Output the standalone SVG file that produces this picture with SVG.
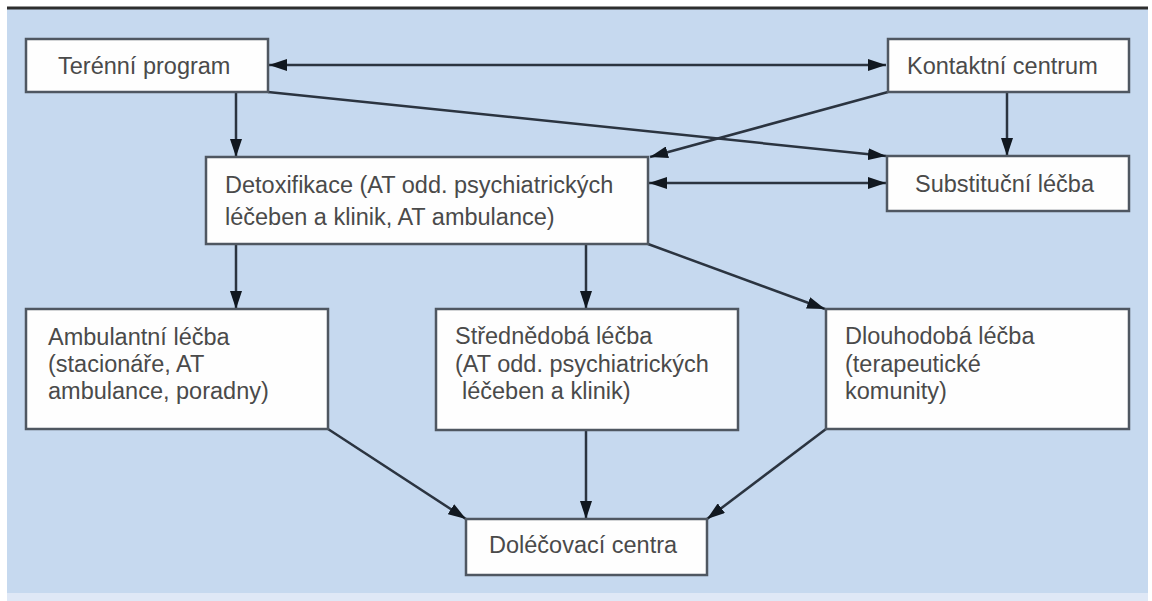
<svg xmlns="http://www.w3.org/2000/svg" width="1152" height="601" viewBox="0 0 1152 601">
  <defs>
    <style>
      .box { fill: #fefefe; stroke: #4f5761; stroke-width: 2.5; }
      .lbl { font-family: "Liberation Sans", Arial, sans-serif; font-size: 23.5px; fill: #4a4a4a; }
      .edge { stroke: #2b3440; stroke-width: 2.5; fill: none; }
    </style>
    <marker id="arr" viewBox="0 0 18 12" refX="18" refY="6" markerWidth="18" markerHeight="12" markerUnits="userSpaceOnUse" orient="auto-start-reverse">
      <path d="M0,0 L18,6 L0,12 Z" fill="#111820"/>
    </marker>
  </defs>

  <!-- background -->
  <rect x="0" y="0" width="1152" height="601" fill="#ffffff"/>
  <rect x="7" y="9" width="1141" height="584" fill="#c6d9ef"/>
  <rect x="7" y="593" width="1141" height="8" fill="#dfe8f6"/>
  <line x1="7" y1="8" x2="1148" y2="8" stroke="#2e2e2e" stroke-width="3"/>

  <!-- connectors -->
  <g id="connectors">
    <line class="edge" x1="269" y1="65" x2="886" y2="65" marker-start="url(#arr)" marker-end="url(#arr)"/>
    <line class="edge" x1="236" y1="92" x2="236" y2="157" marker-end="url(#arr)"/>
    <line class="edge" x1="268" y1="92" x2="886" y2="156" marker-end="url(#arr)"/>
    <line class="edge" x1="888" y1="92" x2="650" y2="157" marker-end="url(#arr)"/>
    <line class="edge" x1="1007" y1="92" x2="1007" y2="156" marker-end="url(#arr)"/>
    <line class="edge" x1="649" y1="183" x2="886" y2="183" marker-start="url(#arr)" marker-end="url(#arr)"/>
    <line class="edge" x1="236" y1="244" x2="236" y2="309" marker-end="url(#arr)"/>
    <line class="edge" x1="586" y1="244" x2="586" y2="309" marker-end="url(#arr)"/>
    <line class="edge" x1="648" y1="244" x2="825" y2="309" marker-end="url(#arr)"/>
    <line class="edge" x1="328" y1="429" x2="466" y2="519" marker-end="url(#arr)"/>
    <line class="edge" x1="586" y1="430" x2="586" y2="519" marker-end="url(#arr)"/>
    <line class="edge" x1="826" y1="429" x2="707" y2="519" marker-end="url(#arr)"/>
  </g>

  <!-- nodes -->
  <g id="terenni">
    <rect class="box" x="26" y="39" width="242" height="53"/>
    <text class="lbl" x="58" y="74">Terénní program</text>
  </g>
  <g id="kontaktni">
    <rect class="box" x="888" y="39" width="241" height="53"/>
    <text class="lbl" x="907" y="74">Kontaktní centrum</text>
  </g>
  <g id="detox">
    <rect class="box" x="206" y="157" width="442" height="87"/>
    <text class="lbl"><tspan x="225" y="193">Detoxifikace (AT odd. psychiatrických</tspan><tspan x="225" y="225">léčeben a klinik, AT ambulance)</tspan></text>
  </g>
  <g id="substitucni">
    <rect class="box" x="887" y="156" width="242" height="55"/>
    <text class="lbl" x="915" y="192">Substituční léčba</text>
  </g>
  <g id="ambulantni">
    <rect class="box" x="26" y="309" width="302" height="120"/>
    <text class="lbl"><tspan x="48" y="345">Ambulantní léčba</tspan><tspan x="48" y="372">(stacionáře, AT</tspan><tspan x="48" y="399">ambulance, poradny)</tspan></text>
  </g>
  <g id="strednedoba">
    <rect class="box" x="436" y="309" width="302" height="121"/>
    <text class="lbl"><tspan x="455" y="344">Střednědobá léčba</tspan><tspan x="455" y="372">(AT odd. psychiatrických</tspan><tspan x="462" y="399">léčeben a klinik)</tspan></text>
  </g>
  <g id="dlouhodoba">
    <rect class="box" x="826" y="309" width="303" height="120"/>
    <text class="lbl"><tspan x="845" y="344">Dlouhodobá léčba</tspan><tspan x="845" y="372">(terapeutické</tspan><tspan x="845" y="399">komunity)</tspan></text>
  </g>
  <g id="dolecovaci">
    <rect class="box" x="466" y="519" width="241" height="56"/>
    <text class="lbl" x="489" y="553">Doléčovací centra</text>
  </g>
</svg>
